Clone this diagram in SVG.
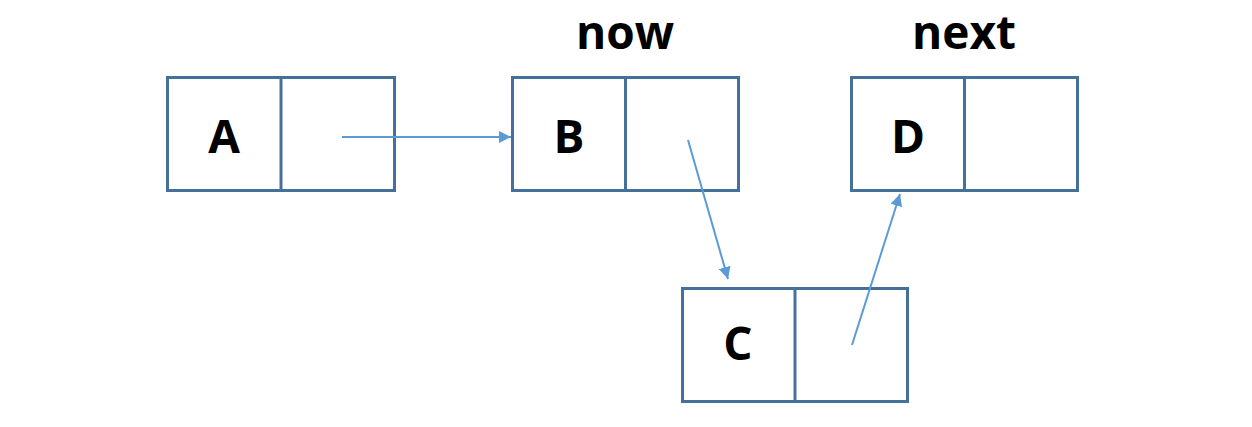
<svg xmlns="http://www.w3.org/2000/svg" width="1252" height="427" viewBox="0 0 1252 427">
<style>
.box{fill:#fff;stroke:#44709A;stroke-width:3}
.lbl{font-family:"Open Sans","Noto Sans",sans-serif;font-weight:bold;font-size:46px;fill:#000;text-anchor:middle}
.conn{stroke:#5B9BD5;stroke-width:2;fill:none;marker-end:url(#ah)}
</style>
<defs>
<marker id="ah" viewBox="0 0 10 10" refX="10" refY="5" markerWidth="6" markerHeight="6" markerUnits="strokeWidth" orient="auto">
<path d="M0,0 L10,5 L0,10 z" fill="#5B9BD5"/>
</marker>
</defs>
<rect width="1252" height="427" fill="#fff"/>
<g id="nodeA">
<rect class="box" x="167.5" y="77.5" width="227" height="113"/>
<line class="box" x1="281" y1="77.5" x2="281" y2="190.5"/>
<text class="lbl" x="224" y="153">A</text>
</g>
<g id="nodeB">
<rect class="box" x="512.5" y="77.5" width="226" height="113"/>
<line class="box" x1="625.5" y1="77.5" x2="625.5" y2="190.5"/>
<text class="lbl" x="569" y="153">B</text>
<text class="lbl" x="625" y="49">now</text>
</g>
<g id="nodeC">
<rect class="box" x="682.5" y="288.5" width="225" height="113"/>
<line class="box" x1="795" y1="288.5" x2="795" y2="401.5"/>
<text class="lbl" x="738" y="360">C</text>
</g>
<g id="nodeD">
<rect class="box" x="851.5" y="77.5" width="226" height="113"/>
<line class="box" x1="964.5" y1="77.5" x2="964.5" y2="190.5"/>
<text class="lbl" x="908" y="153">D</text>
<text class="lbl" x="964" y="49">next</text>
</g>
<g id="connectors">
<line class="conn" x1="342" y1="137" x2="511" y2="137"/>
<line class="conn" x1="688" y1="140" x2="728" y2="279"/>
<line class="conn" x1="852" y1="345" x2="900" y2="194"/>
</g>
</svg>
